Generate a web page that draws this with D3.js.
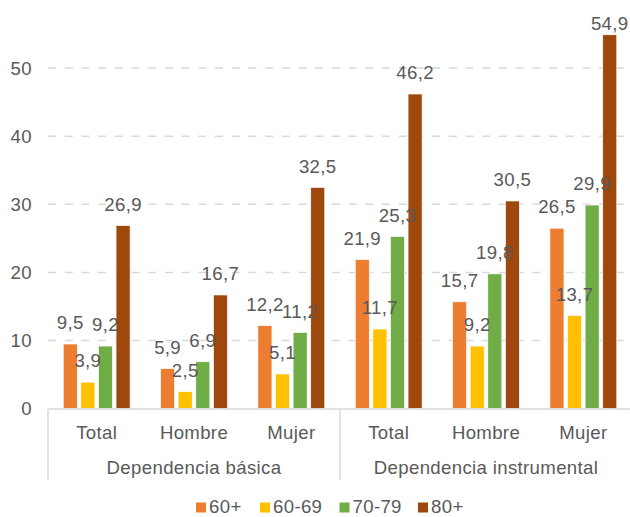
<!DOCTYPE html>
<html>
<head>
<meta charset="utf-8">
<script src="https://cdn.jsdelivr.net/npm/d3@7"></script>
<style>
    body { margin: 0; background: #fff; }
    svg text { font-family: "Liberation Sans", Arial, sans-serif; fill: #595959; letter-spacing: 0.35px; }
</style>
</head>
<body>
<svg id="chart_svg" width="630" height="517"></svg>
<script>
// data
const groups = ["Dependencia básica", "Dependencia instrumental"];
const categories = ["Total", "Hombre", "Mujer"];
const series = ["60+", "60-69", "70-79", "80+"];
const colors = ["#ED7D31", "#FFC000", "#70AD47", "#9E480E"];
// values per group, per category, per series
const basica = [[9.5, 3.9, 9.2, 26.9], [5.9, 2.5, 6.9, 16.7], [12.2, 5.1, 11.2, 32.5]];
const instrumental = [[21.9, 11.7, 25.3, 46.2], [15.7, 9.2, 19.8, 30.5], [26.5, 13.7, 29.9, 54.9]];
const y_ticks = [0, 10, 20, 30, 40, 50];

var g_fs = "18.6px";
var svg = d3.select("#chart_svg");

// keys for the 6 x bands
var keys = [];
groups.forEach(function (g, gi) { categories.forEach(function (c, ci) { keys.push(gi + "_" + ci); }); });
var values = [basica, instrumental];

// scalers
var x_scaler = d3.scaleBand().domain(keys).range([48, 632]);
var y_scaler = d3.scaleLinear().domain([0, 60]).range([408.7, 0]);

// gridlines
svg.selectAll(".grid").data(y_ticks.filter(t => t > 0)).join("line").classed("grid", true)
    .attr("x1", 48).attr("x2", 632)
    .attr("y1", d => y_scaler(d)).attr("y2", d => y_scaler(d))
    .attr("style", "stroke:#D9D9D9; stroke-width:1.5; stroke-dasharray:8,8.7");

// y tick labels
svg.selectAll(".ytick").data(y_ticks).join("text").classed("ytick", true)
    .attr("x", 32).attr("y", d => y_scaler(d)).attr("dy", "0.36em")
    .attr("text-anchor", "end").style("font-size", g_fs)
    .text(d => d);

// bars
var bars = [];
keys.forEach(function (k) {
    var gi = +k.split("_")[0], ci = +k.split("_")[1];
    var cx = x_scaler(k) + x_scaler.bandwidth() / 2;
    var inner = d3.scaleBand().domain(series).range([cx - 35.2, cx + 35.2]).paddingInner(0.2).paddingOuter(0.1);
    series.forEach(function (s, si) {
        bars.push({ x: inner(s), w: inner.bandwidth(), v: values[gi][ci][si], color: colors[si] });
    });
});
svg.selectAll(".bar").data(bars).join("rect").classed("bar", true)
    .attr("x", d => d.x).attr("width", d => d.w)
    .attr("y", d => y_scaler(d.v)).attr("height", d => y_scaler(0) - y_scaler(d.v))
    .attr("fill", d => d.color)
    .attr("style", "stroke:#fff; stroke-width:0.7");

// value labels (kept inside the chart area at the top)
svg.selectAll(".vlabel").data(bars).join("text").classed("vlabel", true)
    .attr("x", d => d.x + d.w / 2)
    .attr("y", d => Math.max(y_scaler(d.v) - 14.7, 30))
    .attr("text-anchor", "middle").style("font-size", g_fs)
    .text(d => d.v.toFixed(1).replace(".", ","));

// x axis
svg.append("line").attr("x1", 48).attr("x2", 632).attr("y1", 409).attr("y2", 409)
    .attr("style", "stroke:#D9D9D9; stroke-width:1.5");
[0, 3, 6].forEach(function (i) {
    var xx = i < 6 ? x_scaler(keys[i]) : 632;
    svg.append("line").attr("x1", xx).attr("x2", xx).attr("y1", 409).attr("y2", 480)
        .attr("style", "stroke:#D9D9D9; stroke-width:1.5");
});
svg.selectAll(".xcat").data(keys).join("text").classed("xcat", true)
    .attr("x", d => x_scaler(d) + x_scaler.bandwidth() / 2).attr("y", 438.5)
    .attr("text-anchor", "middle").style("font-size", g_fs)
    .text(d => categories[+d.split("_")[1]]);
svg.selectAll(".xgrp").data(groups).join("text").classed("xgrp", true)
    .attr("x", (d, i) => x_scaler(keys[i * 3]) + x_scaler.bandwidth() * 1.5).attr("y", 474)
    .attr("text-anchor", "middle").style("font-size", g_fs)
    .text(d => d);

// legend
var lg_x = [196, 260, 339.5, 418];
var legend = svg.selectAll(".legend").data(series).join("g").classed("legend", true)
    .attr("transform", (d, i) => "translate(" + lg_x[i] + ",502.5)");
legend.append("rect").attr("width", 10).attr("height", 10).attr("fill", (d, i) => colors[i]);
legend.append("text").attr("x", 13).attr("y", 10.5).style("font-size", g_fs).text(d => d);
</script>
</body>
</html>
